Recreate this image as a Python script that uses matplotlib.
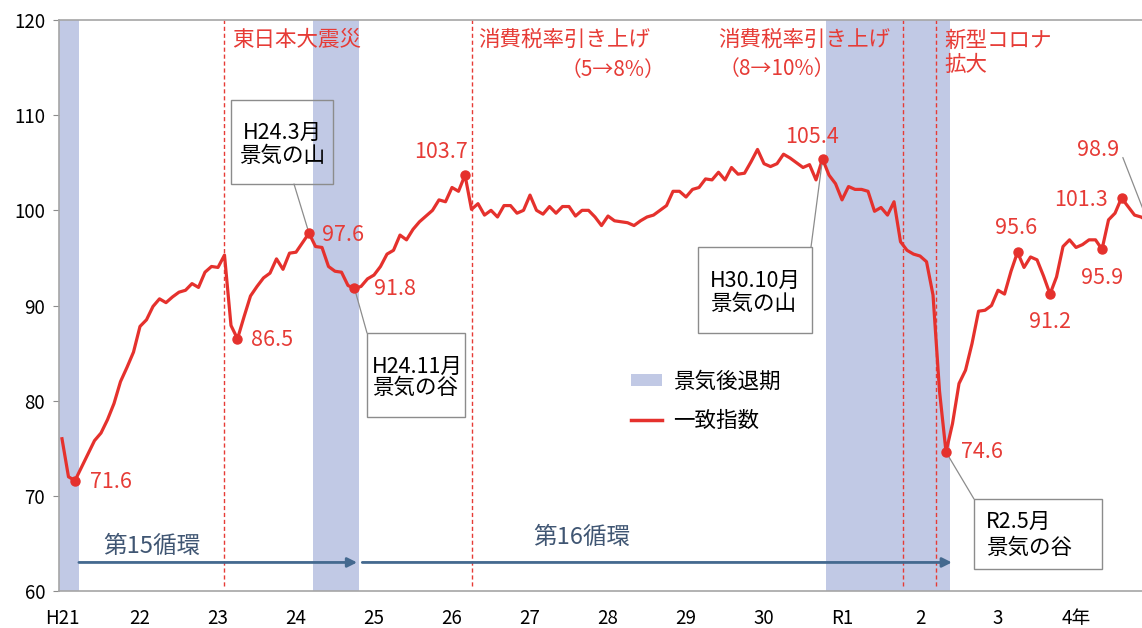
import matplotlib
matplotlib.use('Agg')
import matplotlib.pyplot as plt
from matplotlib.patches import Patch, Rectangle
from matplotlib.lines import Line2D
import numpy as np

plt.rcParams['font.family'] = ['Noto Sans CJK JP', 'DejaVu Sans']

# coincident index, monthly, Jan 2009 (H21) .. Dec 2022 (R4)
ci_2009 = [76.0, 72.0, 71.6, 73.0, 74.4, 75.8, 76.6, 78.0, 79.7, 82.0, 83.5, 85.1]
ci_2010 = [87.8, 88.5, 89.9, 90.7, 90.3, 90.9, 91.4, 91.6, 92.3, 91.9, 93.5, 94.1]
ci_2011 = [94.0, 95.3, 87.9, 86.5, 88.8, 91.0, 92.0, 92.9, 93.4, 94.9, 93.8, 95.5]
ci_2012 = [95.6, 96.6, 97.6, 96.2, 96.1, 94.1, 93.6, 93.5, 92.1, 91.8, 92.0, 92.8]
ci_2013 = [93.2, 94.1, 95.4, 95.8, 97.4, 96.9, 98.0, 98.8, 99.4, 100.0, 101.1, 100.9]
ci_2014 = [102.4, 102.0, 103.7, 100.1, 100.7, 99.5, 100.0, 99.3, 100.5, 100.5, 99.7, 100.0]
ci_2015 = [101.6, 100.0, 99.6, 100.4, 99.7, 100.4, 100.4, 99.4, 100.0, 100.0, 99.3, 98.4]
ci_2016 = [99.4, 98.9, 98.8, 98.7, 98.4, 98.9, 99.3, 99.5, 100.0, 100.5, 102.0, 102.0]
ci_2017 = [101.4, 102.2, 102.4, 103.3, 103.2, 104.0, 103.2, 104.5, 103.8, 103.9, 105.1, 106.4]
ci_2018 = [104.9, 104.6, 104.9, 105.9, 105.5, 105.0, 104.5, 104.8, 103.2, 105.4, 103.7, 102.8]
ci_2019 = [101.1, 102.5, 102.2, 102.2, 102.0, 99.9, 100.3, 99.5, 100.9, 96.7, 95.8, 95.4]
ci_2020 = [95.2, 94.6, 91.1, 81.0, 74.6, 77.6, 81.8, 83.2, 86.0, 89.4, 89.5, 90.0]
ci_2021 = [91.6, 91.2, 93.6, 95.6, 94.0, 95.1, 94.8, 93.1, 91.2, 93.0, 96.2, 96.9]
ci_2022 = [96.1, 96.4, 96.9, 96.9, 95.9, 99.0, 99.7, 101.3, 100.4, 99.5, 99.3, 98.9]

year_labels = ['H21', '22', '23', '24', '25', '26', '27', '28', '29', '30', 'R1', '2', '3', '4年']

# labelled points (month index) and their offsets in pixels
marked = [2, 27, 38, 45, 62, 117, 136, 147, 152, 160, 163]
mark_offsets = [(15, -1), (14, -1), (13, -2), (20, -1), (-24, 23), (-11, 22),
                (15, 0), (-1, 24), (0, -28), (0, -29), (-41, -2)]
mark_ha = ['left', 'left', 'left', 'left', 'center', 'center',
           'left', 'center', 'center', 'center', 'center']

# recession shading (month index), cycle arrows, events
rec_start = [-11, 38.6, 117.6]
rec_end = [2.6, 45.7, 136.6]
cycle_start = [2.6, 46.2]
cycle_end = [45.4, 136.9]
cycle_names = ['第15循環', '第16循環']
events = [24.9, 63.1, 129.4, 134.5]

ci = np.array(ci_2009 + ci_2010 + ci_2011 + ci_2012 + ci_2013 + ci_2014 + ci_2015
              + ci_2016 + ci_2017 + ci_2018 + ci_2019 + ci_2020 + ci_2021 + ci_2022)
months = np.arange(len(ci))

RED = '#E5312D'
RED_TXT = '#E63B36'
BAND = '#C1C9E5'
GRAY = '#8C8C8C'
BLUE = '#44698F'

W, H = 1142, 628


def fxy(x, y):
    return x / W, 1 - y / H


fig = plt.figure(figsize=(W / 100, H / 100), dpi=100)
ax = fig.add_axes([59 / W, 1 - 591 / H, 1 - 59 / W, 571 / H])

for s, e in zip(rec_start, rec_end):
    ax.axvspan(s, e, color=BAND, lw=0, zorder=0)

ax.vlines(events, 60.5, 120, colors=RED_TXT, linestyles=(0, (3, 2)), lw=1, zorder=1)

ax.plot(months, ci, color=RED, lw=2.3, zorder=3)
ax.plot(months[marked], ci[marked], 'o', ms=6.5, color=RED, zorder=4)

for m, (dx, dy), ha in zip(marked, mark_offsets, mark_ha):
    ax.annotate(f'{ci[m]:.1f}', xy=(m, ci[m]), xytext=(dx, dy), textcoords='offset pixels',
                ha=ha, va='center', color=RED_TXT, fontsize=15.5)

ax.annotate(f'{ci[-1]:.1f}', xy=(months[-1], ci[-1]), xytext=fxy(1098, 150),
            textcoords='figure fraction', ha='center', va='center', color=RED_TXT,
            fontsize=15.5, annotation_clip=False,
            arrowprops=dict(arrowstyle='-', color=GRAY, lw=0.9, relpos=(1.0, 0.6),
                            shrinkA=2, shrinkB=0))

# cycle arrows
for s, e, name in zip(cycle_start, cycle_end, cycle_names):
    ax.annotate('', xy=(e, 63), xytext=(s, 63),
                arrowprops=dict(arrowstyle='-|>', color=BLUE, lw=2, mutation_scale=14,
                                shrinkA=0, shrinkB=0))
ax.text(13.8, 64.7, cycle_names[0], ha='center', va='center', color='#405673', fontsize=17)
ax.text(80, 65.6, cycle_names[1], ha='center', va='center', color='#405673', fontsize=17)

# event labels
ax.text(events[0] + 1.2, 117.9, '東日本大震災', color=RED_TXT, fontsize=15.5, va='center')
ax.text(events[1] + 0.9, 117.9, '消費税率引き上げ', color=RED_TXT, fontsize=15.5, va='center')
ax.text(92.9, 114.7, '（5→8%）', color=RED_TXT, fontsize=15, va='center', ha='right')
ax.text(100.9, 117.9, '消費税率引き上げ', color=RED_TXT, fontsize=15.5, va='center')
ax.text(118.9, 114.9, '（8→10%）', color=RED_TXT, fontsize=15, va='center', ha='right')
ax.text(events[3] + 1.3, 116.5, '新型コロナ\n拡大', color=RED_TXT, fontsize=15.5, va='center',
        linespacing=1.12)


# note boxes with leader lines
def note(box, txt, center, ha, point, corner, spacing):
    x0, y0, x1, y1 = box
    fig.add_artist(Rectangle(fxy(x0, y1), (x1 - x0) / W, (y1 - y0) / H,
                             transform=fig.transFigure, fc='none', ec=GRAY, lw=1))
    fig.text(*fxy(*center), txt, ha=ha, va='center', fontsize=15.5, color='black',
             multialignment=ha, linespacing=spacing)
    ax.annotate('', xy=(point, ci[point]), xytext=fxy(*corner), textcoords='figure fraction',
                arrowprops=dict(arrowstyle='-', color=GRAY, lw=0.9, shrinkA=0, shrinkB=0))


note((231, 100, 333, 184), 'H24.3月\n景気の山', (282, 144), 'center', 38, (294, 184), 1.05)
note((367, 333, 465, 417), 'H24.11月\n景気の谷', (372, 377), 'left', 45, (367, 333), 0.95)
note((698, 247, 812, 333), 'H30.10月\n景気の山', (710, 292), 'left', 117, (811, 247), 1.05)
note((974, 499, 1102, 569), 'R2.5月\n景気の谷', (986, 535), 'left', 136, (974, 499), 1.2)

# legend
handles = [Patch(facecolor=BAND, edgecolor='none'), Line2D([], [], color=RED, lw=2.5)]
fig.legend(handles, ['景気後退期', '一致指数'], loc='upper left', bbox_to_anchor=fxy(631, 371),
           frameon=False, fontsize=15.5, handlelength=1.45, handleheight=0.5,
           handletextpad=0.5, labelspacing=0.78, borderpad=0, borderaxespad=0)

ax.set_xlim(-0.46, 166.15)
ax.set_ylim(60, 120)
ax.set_yticks(range(60, 121, 10))
ax.set_xticks(np.arange(len(year_labels)) * 12)
ax.set_xticklabels(year_labels)
ax.tick_params(axis='y', length=4, color=GRAY, pad=6, labelsize=13.5)
ax.tick_params(axis='x', length=0, pad=12, labelsize=13.5)
for side in ['left', 'bottom', 'top']:
    ax.spines[side].set_color('#A6A6A6')
    ax.spines[side].set_linewidth(1.2)
ax.spines['right'].set_visible(False)

fig.savefig('out.png', dpi=100)
